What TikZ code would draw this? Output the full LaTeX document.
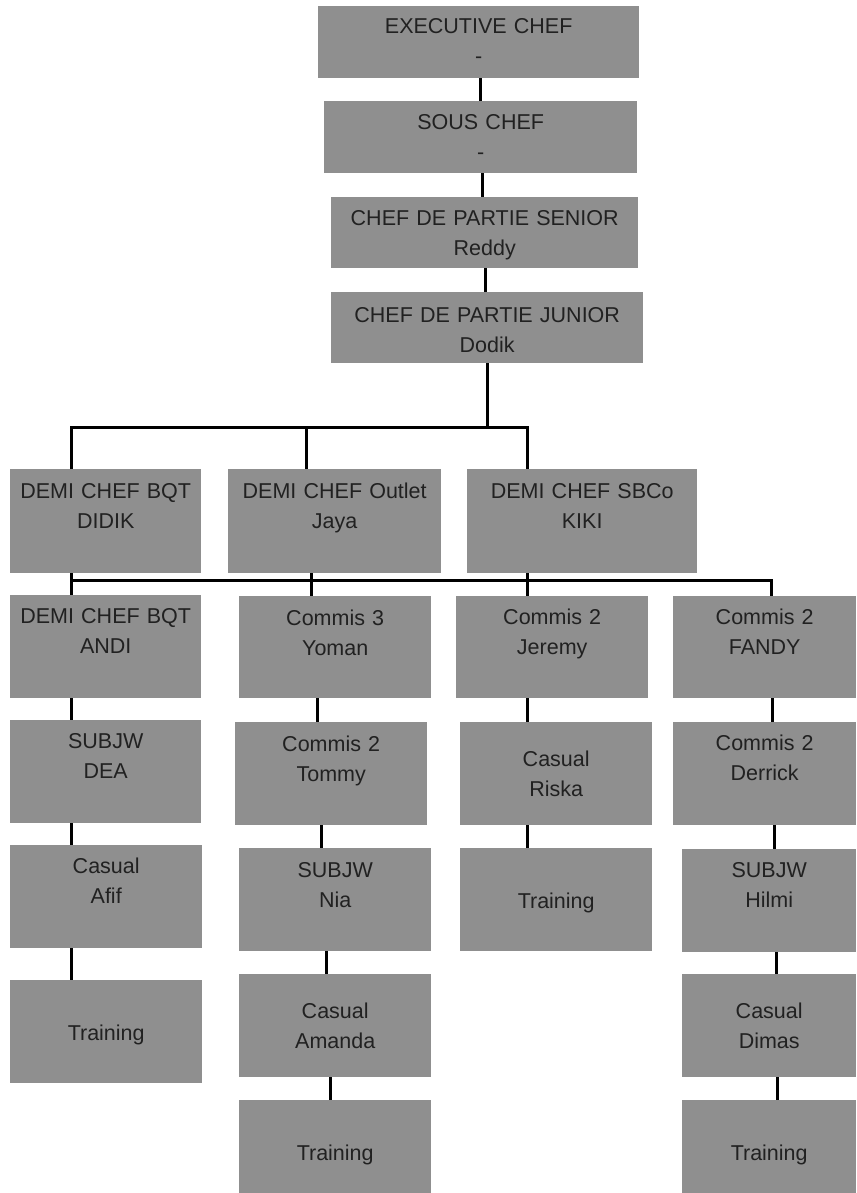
\documentclass[tikz,border=0pt]{standalone}
\usepackage{fontspec}
\setmainfont{Liberation Sans}
\usepackage{xcolor}
\definecolor{boxGray}{rgb}{0.56, 0.56, 0.56}
\definecolor{textDark}{rgb}{0.13, 0.13, 0.13}

\tikzset{
	rolebox/.style n args={3}{fill=boxGray, text=textDark, anchor=north west, inner sep=0pt,
		minimum width=#1, text width=#1, align=center,
		text height=#3, text depth=#2-#3, font=\fontsize{21.5}{30}\selectfont},
	link/.style={line width=3pt, black}
}

\begin{document}
\begin{tikzpicture}[x=1pt, y=-1pt]
			\useasboundingbox (0,0) rectangle (856,1193);

			% Top of the chart
			\node[rolebox={321}{72}{27}] (exec) at (318,6) {EXECUTIVE CHEF\\-};
			\node[rolebox={313}{72}{28}] (sous) at (324,101) {SOUS CHEF\\-};
			\node[rolebox={307}{71}{28}] (senior) at (331,197) {CHEF DE PARTIE SENIOR\\Reddy};
			\node[rolebox={312}{71}{30}] (junior) at (331,292) {CHEF DE PARTIE JUNIOR\\Dodik};

			% Demi chefs
			\node[rolebox={191}{104}{29}] (didik) at (10,469) {DEMI CHEF BQT\\DIDIK};
			\node[rolebox={213}{104}{29}] (jaya) at (228,469) {DEMI CHEF Outlet\\Jaya};
			\node[rolebox={230}{104}{29}] (kiki) at (467,469) {DEMI CHEF SBCo\\KIKI};

			% Column 1
			\node[rolebox={191}{103}{28}] (andi) at (10,595) {DEMI CHEF BQT\\ANDI};
			\node[rolebox={191}{103}{28}] (dea) at (10,720) {SUBJW\\DEA};
			\node[rolebox={192}{103}{28}] (afif) at (10,845) {Casual\\Afif};
			\node[rolebox={192}{103}{60}] (trainA) at (10,980) {Training};

			% Column 2
			\node[rolebox={192}{102}{29}] (yoman) at (239,596) {Commis 3\\Yoman};
			\node[rolebox={192}{103}{29}] (tommy) at (235,722) {Commis 2\\Tommy};
			\node[rolebox={192}{103}{29}] (nia) at (239,848) {SUBJW\\Nia};
			\node[rolebox={192}{103}{44}] (amanda) at (239,974) {Casual\\Amanda};
			\node[rolebox={192}{93}{60}] (trainC) at (239,1100) {Training};

			% Column 3
			\node[rolebox={192}{102}{28}] (jeremy) at (456,596) {Commis 2\\Jeremy};
			\node[rolebox={192}{103}{44}] (riska) at (460,722) {Casual\\Riska};
			\node[rolebox={192}{103}{60}] (trainB) at (460,848) {Training};

			% Column 4
			\node[rolebox={183}{102}{28}] (fandy) at (673,596) {Commis 2\\FANDY};
			\node[rolebox={183}{103}{28}] (derrick) at (673,722) {Commis 2\\Derrick};
			\node[rolebox={174}{103}{28}] (hilmi) at (682,849) {SUBJW\\Hilmi};
			\node[rolebox={174}{103}{44}] (dimas) at (682,974) {Casual\\Dimas};
			\node[rolebox={174}{93}{60}] (trainD) at (682,1100) {Training};

			% Draw the chain at the top
			\foreach \a/\b/\x in {exec/sous/480, sous/senior/482, senior/junior/485}
			\draw[link] (\a.south -| \x,0) -- (\b.north -| \x,0);

			% Bus under the junior chef
			\coordinate (busL) at (71,427);
			\coordinate (busM) at (306,427);
			\coordinate (busR) at (527,427);
			\draw[link] (junior.south) -- (junior.south |- busR);
			\draw[link] (didik.north -| busL) -- (busL) -- (busR) -- (kiki.north -| busR);
			\draw[link] (busM) -- (jaya.north -| busM);

			% Bus under the demi chefs
			\coordinate (railL) at (71,580);
			\coordinate (railR) at (771,580);
			\draw[link] (railL) -- (railR) -- (fandy.north -| railR);
			\draw[link] (didik.south -| railL) -- (andi.north -| railL);
			\draw[link] (jaya.south -| 311,0) -- (yoman.north -| 311,0);
			\draw[link] (kiki.south -| 527,0) -- (jeremy.north -| 527,0);

			% Draw links down each column
			\foreach \a/\b/\x in {andi/dea/71, dea/afif/71, afif/trainA/71,
				yoman/tommy/317, tommy/nia/321, nia/amanda/326, amanda/trainC/330,
				jeremy/riska/527, riska/trainB/527,
				fandy/derrick/772, derrick/hilmi/774, hilmi/dimas/776, dimas/trainD/777}
			\draw[link] (\a.south -| \x,0) -- (\b.north -| \x,0);
		\end{tikzpicture}
\end{document}
